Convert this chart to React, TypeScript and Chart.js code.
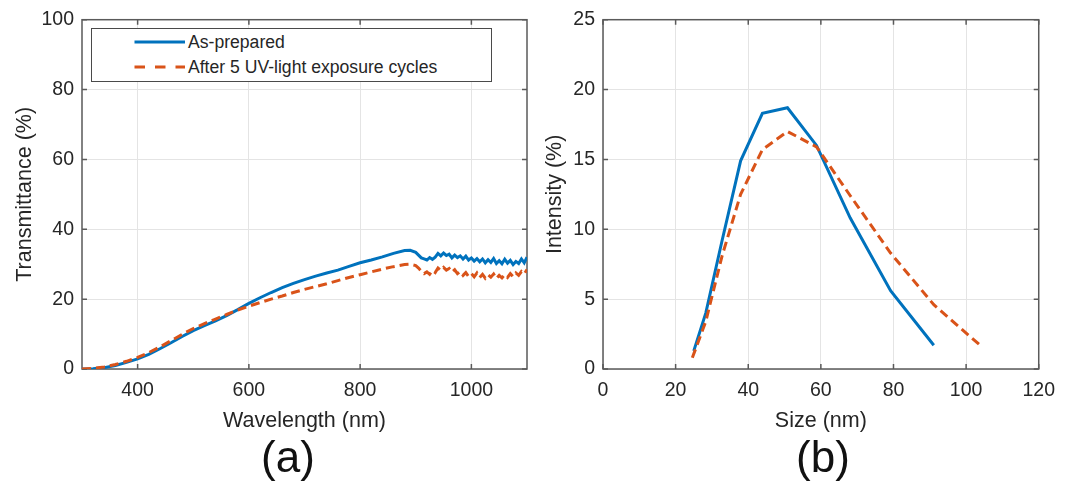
import React, { useEffect, useRef } from "react";
import { Chart, registerables } from "chart.js";

Chart.register(...registerables);

// ---------- Data: (a) transmittance ----------
const WAVELENGTH_NM = [
  300, 320, 340, 360, 380, 400, 420, 440, 460, 480,
  500, 520, 540, 560, 580, 600, 620, 640, 660, 680,
  700, 720, 740, 760, 780, 800, 820, 840, 860, 880,
  890,
  900, 905, 910, 915, 920, 925, 930, 935, 940, 945,
  950, 955, 960, 965, 970, 975, 980, 985, 990, 995,
  1000, 1005, 1010, 1015, 1020, 1025, 1030, 1035, 1040, 1045,
  1050, 1055, 1060, 1065, 1070, 1075, 1080, 1085, 1090, 1095,
  1100,
];
const TRANS_AS_PREPARED = [
  0.0, 0.1, 0.4, 1.0, 1.9, 2.9, 4.2, 5.8, 7.5, 9.3,
  11.0, 12.4, 13.8, 15.3, 17.0, 18.8, 20.4, 21.9, 23.3, 24.5,
  25.6, 26.6, 27.5, 28.3, 29.4, 30.4, 31.2, 32.1, 33.1, 33.9,
  34.0,
  33.4, 32.6, 31.8, 31.5, 31.2, 31.9, 31.4, 32.0, 33.1, 32.4,
  33.2, 32.5, 32.9, 31.8, 32.6, 31.9, 32.4, 31.5, 32.3, 31.2,
  31.8, 30.9, 31.6, 30.7, 31.5, 30.4, 31.3, 30.5, 31.6, 30.2,
  31.0, 30.1, 31.4, 30.3, 31.1, 29.9, 30.8, 30.2, 31.5, 30.4,
  32.0,
];
const TRANS_AFTER_UV = [
  0.0, 0.2, 0.6, 1.3, 2.2, 3.3, 4.7, 6.3, 8.1, 9.9,
  11.6, 13.0, 14.3, 15.6, 16.9, 18.0, 19.0, 20.0, 20.9, 21.9,
  22.8, 23.6, 24.4, 25.3, 26.2, 27.0, 27.8, 28.6, 29.3, 29.9,
  30.0,
  29.6, 28.9, 28.0, 27.3, 27.8, 27.1, 28.2, 27.6, 28.9, 28.2,
  29.1, 28.3, 28.8, 27.7, 28.4, 27.3, 27.9, 26.8, 27.6, 26.5,
  27.3, 26.4, 27.5, 26.2, 27.1, 26.0, 27.0, 26.3, 27.2, 25.9,
  26.8, 26.1, 27.0, 26.2, 27.3, 26.4, 27.5, 26.8, 27.9, 27.2,
  28.5,
];
const WL_TICKS = [400, 600, 800, 1000];
const TRANS_TICKS = [0, 20, 40, 60, 80, 100];

// ---------- Data: (b) size distribution ----------
const SIZE_AS_PREPARED = [25.0, 28.3, 32.8, 37.9, 43.9, 50.8, 58.8, 68.1, 79.2, 91.1];
const INT_AS_PREPARED = [1.3, 4.0, 9.2, 14.9, 18.3, 18.7, 16.0, 10.8, 5.6, 1.7];
const SIZE_AFTER_UV = [24.6, 28.3, 32.8, 37.9, 43.9, 50.8, 58.8, 68.1, 79.2, 91.1, 104.3];
const INT_AFTER_UV = [0.8, 3.4, 8.1, 12.5, 15.7, 17.0, 15.9, 12.4, 8.3, 4.6, 1.6];
const SIZE_TICKS = [0, 20, 40, 60, 80, 100, 120];
const INT_TICKS = [0, 5, 10, 15, 20, 25];

const SERIES_LABELS = ["As-prepared", "After 5 UV-light exposure cycles"];

// ---------- Styles ----------
const FONT = '"Liberation Sans", Arial, Helvetica, sans-serif';
const TEXT = "#262626";
const BLUE = "#0072BD";
const ORANGE = "#D95319";
const GRID = "#e4e4e4";
const AXIS = "#5a5a5a";
const TICK_SIZE = 19.5;
const TITLE_SIZE = 21.5;
const CANVAS_H = 440;
const PLOT_BOTTOM = 369;

const framePlugin = {
  id: "frame",
  beforeDatasetsDraw(chart: any) {
    const { ctx, chartArea: a, scales } = chart;
    ctx.save();
    ctx.strokeStyle = AXIS;
    ctx.lineWidth = 1.5;
    ctx.strokeRect(a.left, a.top, a.right - a.left, a.bottom - a.top);
    const TL = 5;
    ctx.beginPath();
    scales.x.ticks.forEach((t: any) => {
      const px = scales.x.getPixelForValue(t.value);
      ctx.moveTo(px, a.bottom);
      ctx.lineTo(px, a.bottom - TL);
      ctx.moveTo(px, a.top);
      ctx.lineTo(px, a.top + TL);
    });
    scales.y.ticks.forEach((t: any) => {
      const py = scales.y.getPixelForValue(t.value);
      ctx.moveTo(a.left, py);
      ctx.lineTo(a.left + TL, py);
      ctx.moveTo(a.right, py);
      ctx.lineTo(a.right - TL, py);
    });
    ctx.stroke();
    ctx.restore();
  },
};

function makeOptions(o: {
  xMin: number; xMax: number; xTicks: number[];
  yMin: number; yMax: number; yTicks: number[];
  xTitle: string; yTitle: string;
  yAxisWidth: number; padTop: number; padRight: number;
}) {
  return {
    responsive: false,
    animation: false as const,
    events: [] as any[],
    layout: { padding: { top: o.padTop, right: o.padRight, left: 0, bottom: 0 } },
    plugins: { legend: { display: false }, tooltip: { enabled: false }, title: { display: false } },
    elements: { point: { radius: 0 } },
    scales: {
      x: {
        type: "linear" as const,
        min: o.xMin,
        max: o.xMax,
        afterBuildTicks: (s: any) => { s.ticks = o.xTicks.map((v) => ({ value: v })); },
        afterFit: (s: any) => { s.height = CANVAS_H - PLOT_BOTTOM; },
        grid: { color: GRID, lineWidth: 1, drawTicks: false },
        border: { display: false },
        ticks: {
          color: TEXT, font: { family: FONT, size: TICK_SIZE }, padding: 10, maxRotation: 0, autoSkip: false,
          callback: (v: any) => String(v),
        },
        title: { display: true, text: o.xTitle, color: TEXT, font: { family: FONT, size: TITLE_SIZE }, padding: { top: 0, bottom: 6 } },
      },
      y: {
        type: "linear" as const,
        min: o.yMin,
        max: o.yMax,
        afterBuildTicks: (s: any) => { s.ticks = o.yTicks.map((v) => ({ value: v })); },
        afterFit: (s: any) => { s.width = o.yAxisWidth; },
        grid: { color: GRID, lineWidth: 1, drawTicks: false },
        border: { display: false },
        ticks: { color: TEXT, font: { family: FONT, size: TICK_SIZE }, padding: 8, callback: (v: any) => String(v) },
        title: { display: true, text: o.yTitle, color: TEXT, font: { family: FONT, size: TITLE_SIZE }, padding: { top: 12, bottom: 0 } },
      },
    },
  };
}

export default function App() {
  const leftRef = useRef<HTMLCanvasElement>(null);
  const rightRef = useRef<HTMLCanvasElement>(null);

  useEffect(() => {
    const left = new Chart(leftRef.current!, {
      type: "line",
      data: {
        datasets: [
          {
            label: SERIES_LABELS[0],
            data: WAVELENGTH_NM.map((x, i) => ({ x, y: TRANS_AS_PREPARED[i] })),
            borderColor: BLUE,
            borderWidth: 3,
            tension: 0,
            order: 2,
          },
          {
            label: SERIES_LABELS[1],
            data: WAVELENGTH_NM.map((x, i) => ({ x, y: TRANS_AFTER_UV[i] })),
            borderColor: ORANGE,
            borderWidth: 3,
            borderDash: [9, 5],
            tension: 0,
            order: 1,
          },
        ],
      },
      options: makeOptions({
        xMin: 300, xMax: 1100, xTicks: WL_TICKS,
        yMin: 0, yMax: 100, yTicks: TRANS_TICKS,
        xTitle: "Wavelength (nm)", yTitle: "Transmittance (%)",
        yAxisWidth: 82, padTop: 18, padRight: 13,
      }) as any,
      plugins: [framePlugin],
    });

    const right = new Chart(rightRef.current!, {
      type: "line",
      data: {
        datasets: [
          {
            label: SERIES_LABELS[0],
            data: SIZE_AS_PREPARED.map((x, i) => ({ x, y: INT_AS_PREPARED[i] })),
            borderColor: BLUE,
            borderWidth: 3,
            tension: 0,
            order: 2,
          },
          {
            label: SERIES_LABELS[1],
            data: SIZE_AFTER_UV.map((x, i) => ({ x, y: INT_AFTER_UV[i] })),
            borderColor: ORANGE,
            borderWidth: 3,
            borderDash: [9, 5],
            tension: 0,
            order: 1,
          },
        ],
      },
      options: makeOptions({
        xMin: 0, xMax: 120, xTicks: SIZE_TICKS,
        yMin: 0, yMax: 25, yTicks: INT_TICKS,
        xTitle: "Size (nm)", yTitle: "Intensity (%)",
        yAxisWidth: 73, padTop: 19, padRight: 17,
      }) as any,
      plugins: [framePlugin],
    });

    return () => {
      left.destroy();
      right.destroy();
    };
  }, []);

  const legendText: React.CSSProperties = {
    position: "absolute",
    left: 188,
    fontSize: 17.6,
    lineHeight: "20px",
    color: TEXT,
    whiteSpace: "nowrap",
  };
  const panelLabel: React.CSSProperties = {
    position: "absolute",
    top: 435,
    width: 200,
    textAlign: "center",
    fontSize: 44,
    lineHeight: "44px",
    color: "#111",
  };

  return (
    <div
      style={{
        position: "fixed",
        left: 0,
        top: 0,
        width: 1065,
        height: 485,
        background: "#fff",
        overflow: "hidden",
        fontFamily: FONT,
      }}
    >
      <canvas ref={leftRef} width={540} height={CANVAS_H} style={{ position: "absolute", left: 0, top: 0 }} />
      <canvas ref={rightRef} width={535} height={CANVAS_H} style={{ position: "absolute", left: 530, top: 0 }} />

      {/* Legend of panel (a) */}
      <div
        style={{
          position: "absolute",
          left: 91,
          top: 28,
          width: 399,
          height: 52,
          border: "1px solid #4a4a4a",
          background: "#fff",
        }}
      />
      <svg style={{ position: "absolute", left: 134, top: 36 }} width={54} height={12}>
        <line x1={0.5} y1={6} x2={51} y2={6} stroke={BLUE} strokeWidth={3} />
      </svg>
      <div style={{ ...legendText, top: 31.5 }}>{SERIES_LABELS[0]}</div>
      <svg style={{ position: "absolute", left: 134, top: 61 }} width={54} height={12}>
        <line x1={0.5} y1={6} x2={51} y2={6} stroke={ORANGE} strokeWidth={3} strokeDasharray="10.5 10" />
      </svg>
      <div style={{ ...legendText, top: 56.5 }}>{SERIES_LABELS[1]}</div>

      <div style={{ ...panelLabel, left: 188 }}>(a)</div>
      <div style={{ ...panelLabel, left: 723 }}>(b)</div>
    </div>
  );
}
